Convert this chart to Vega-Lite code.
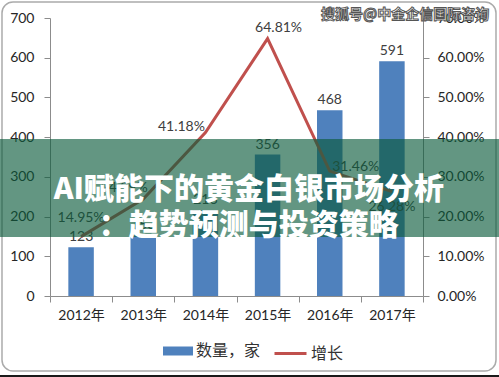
{
  "$schema": "https://vega.github.io/schema/vega-lite/v6.json",
  "width": 373,
  "height": 278,
  "autosize": {"type": "none"},
  "padding": {"left": 50, "top": 18, "right": 76, "bottom": 81},
  "background": "white",
  "config": {
    "view": {"stroke": null},
    "font": "Lato, 'Noto Sans CJK SC'",
    "axis": {
      "domainColor": "#8C8C8C",
      "tickColor": "#8C8C8C",
      "labelFont": "Lato, 'Noto Sans CJK SC'",
      "labelFontSize": 14,
      "labelColor": "#262626",
      "grid": false,
      "title": null,
      "tickSize": 6
    },
    "legend": {
      "labelFont": "Noto Sans CJK SC",
      "labelFontSize": 16,
      "labelColor": "#333333",
      "labelOffset": 3,
      "title": null
    }
  },
  "datasets": {
    "main": [
      {"year": "2012年", "count": 123, "growth": 0.1495},
      {"year": "2013年", "count": 153, "growth": 0.2439},
      {"year": "2014年", "count": 216, "growth": 0.4118},
      {"year": "2015年", "count": 356, "growth": 0.6481},
      {"year": "2016年", "count": 468, "growth": 0.3146},
      {"year": "2017年", "count": 591, "growth": 0.2628}
    ]
  },
  "layer": [
    {
      "data": {"name": "main"},
      "encoding": {
        "x": {
          "field": "year",
          "type": "nominal",
          "sort": null,
          "scale": {"paddingInner": 0, "paddingOuter": 0},
          "axis": {"tickBand": "extent", "labelAngle": 0, "labelPadding": 6}
        }
      },
      "layer": [
        {
          "encoding": {
            "y": {
              "field": "count",
              "type": "quantitative",
              "scale": {"domain": [0, 700], "nice": false},
              "axis": {"orient": "left", "values": [0, 100, 200, 300, 400, 500, 600, 700], "labelPadding": 10}
            }
          },
          "layer": [
            {
              "mark": {"type": "bar", "width": {"band": 0.41}},
              "encoding": {
                "color": {
                  "datum": "数量，家",
                  "scale": {"range": ["#4F81BD"]},
                  "legend": {
                    "orient": "none",
                    "legendX": 113,
                    "legendY": 318,
                    "symbolType": "M-1,-0.3L1,-0.3L1,0.3L-1,0.3Z",
                    "symbolSize": 900,
                    "symbolStrokeWidth": 0
                  }
                }
              }
            },
            {
              "mark": {"type": "text", "baseline": "bottom", "dy": -3, "fontSize": 14, "font": "Lato", "color": "#404040"},
              "encoding": {"text": {"field": "count", "type": "quantitative"}}
            }
          ]
        },
        {
          "encoding": {
            "y": {
              "field": "growth",
              "type": "quantitative",
              "scale": {"domain": [0, 0.7], "nice": false},
              "axis": {"orient": "right", "format": ".2%", "values": [0, 0.1, 0.2, 0.3, 0.4, 0.5, 0.6, 0.7], "labelPadding": 8}
            }
          },
          "layer": [
            {
              "mark": {"type": "line", "strokeWidth": 3},
              "encoding": {
                "stroke": {
                  "datum": "增长",
                  "scale": {"range": ["#C0504D"]},
                  "legend": {
                    "orient": "none",
                    "legendX": 223,
                    "legendY": 318,
                    "symbolType": "stroke",
                    "symbolSize": 1024,
                    "symbolStrokeWidth": 3
                  }
                }
              }
            },
            {
              "transform": [{"filter": "datum.year === '2012年'"}],
              "mark": {"type": "text", "baseline": "middle", "dy": -19, "fontSize": 14, "font": "Lato", "color": "#404040"},
              "encoding": {"text": {"field": "growth", "type": "quantitative", "format": ".2%"}}
            },
            {
              "transform": [{"filter": "datum.year === '2013年'"}],
              "mark": {"type": "text", "baseline": "middle", "dx": -19, "dy": -11, "fontSize": 14, "font": "Lato", "color": "#404040"},
              "encoding": {"text": {"field": "growth", "type": "quantitative", "format": ".2%"}}
            },
            {
              "transform": [{"filter": "datum.year === '2014年'"}],
              "mark": {"type": "text", "baseline": "middle", "dx": -24, "dy": -5, "fontSize": 14, "font": "Lato", "color": "#404040"},
              "encoding": {"text": {"field": "growth", "type": "quantitative", "format": ".2%"}}
            },
            {
              "transform": [{"filter": "datum.year === '2015年'"}],
              "mark": {"type": "text", "baseline": "middle", "dx": 11, "dy": -11, "fontSize": 14, "font": "Lato", "color": "#404040"},
              "encoding": {"text": {"field": "growth", "type": "quantitative", "format": ".2%"}}
            },
            {
              "transform": [{"filter": "datum.year === '2016年'"}],
              "mark": {"type": "text", "baseline": "middle", "dx": 26, "dy": -4, "fontSize": 14, "font": "Lato", "color": "#404040"},
              "encoding": {"text": {"field": "growth", "type": "quantitative", "format": ".2%"}}
            },
            {
              "transform": [{"filter": "datum.year === '2017年'"}],
              "mark": {"type": "text", "baseline": "middle", "dy": 15, "fontSize": 14, "font": "Lato", "color": "#404040"},
              "encoding": {"text": {"field": "growth", "type": "quantitative", "format": ".2%"}}
            }
          ]
        }
      ],
      "resolve": {"scale": {"y": "independent"}}
    },
    {
      "data": {"values": [{}]},
      "layer": [
        {
          "mark": {"type": "rect", "filled": false, "stroke": "#ABABAB", "strokeWidth": 1.5, "cornerRadius": 11},
          "encoding": {
            "x": {"datum": -0.1287, "type": "quantitative", "scale": {"domain": [0, 1], "nice": false, "zero": false}, "axis": null},
            "x2": {"datum": 1.1957},
            "y": {"datum": 1.0576, "type": "quantitative", "scale": {"domain": [0, 1], "nice": false, "zero": false}, "axis": null},
            "y2": {"datum": -0.2698}
          }
        },
        {
          "mark": {"type": "rect", "color": "#1A1A1A"},
          "encoding": {
            "x": {"datum": -0.1341, "type": "quantitative", "scale": {"domain": [0, 1], "nice": false, "zero": false}, "axis": null},
            "x2": {"datum": 1.2038},
            "y": {"datum": -0.2842, "type": "quantitative", "scale": {"domain": [0, 1], "nice": false, "zero": false}, "axis": null},
            "y2": {"datum": -0.2914}
          }
        },
        {
          "mark": {"type": "rect", "color": "#0B5A3C", "opacity": 0.64},
          "encoding": {
            "x": {"datum": -0.1341, "type": "quantitative", "scale": {"domain": [0, 1], "nice": false, "zero": false}, "axis": null},
            "x2": {"datum": 1.2038},
            "y": {"datum": 0.5647, "type": "quantitative", "scale": {"domain": [0, 1], "nice": false, "zero": false}, "axis": null},
            "y2": {"datum": 0.2122}
          }
        },
        {
          "mark": {
            "type": "text",
            "text": ["AI赋能下的黄金白银市场分析", "：趋势预测与投资策略"],
            "font": "Noto Sans CJK SC",
            "fontWeight": 900,
            "fontSize": 30,
            "lineHeight": 36,
            "color": "white",
            "align": "center",
            "baseline": "middle"
          },
          "encoding": {
            "x": {"datum": 0.533, "type": "quantitative", "scale": {"domain": [0, 1], "nice": false, "zero": false}, "axis": null},
            "y": {"datum": 0.381, "type": "quantitative", "scale": {"domain": [0, 1], "nice": false, "zero": false}, "axis": null}
          }
        },
        {
          "mark": {
            "type": "text",
            "text": "搜狐号@中金企信国际咨询",
            "font": "Noto Sans CJK SC",
            "fontWeight": "bold",
            "fontSize": 14,
            "fill": "white",
            "stroke": "#555555",
            "strokeWidth": 1,
            "align": "center",
            "baseline": "middle"
          },
          "encoding": {
            "x": {"datum": 0.952, "type": "quantitative", "scale": {"domain": [0, 1], "nice": false, "zero": false}, "axis": null},
            "y": {"datum": 1.0108, "type": "quantitative", "scale": {"domain": [0, 1], "nice": false, "zero": false}, "axis": null}
          }
        }
      ]
    }
  ],
  "resolve": {"scale": {"x": "independent", "y": "independent"}}
}
